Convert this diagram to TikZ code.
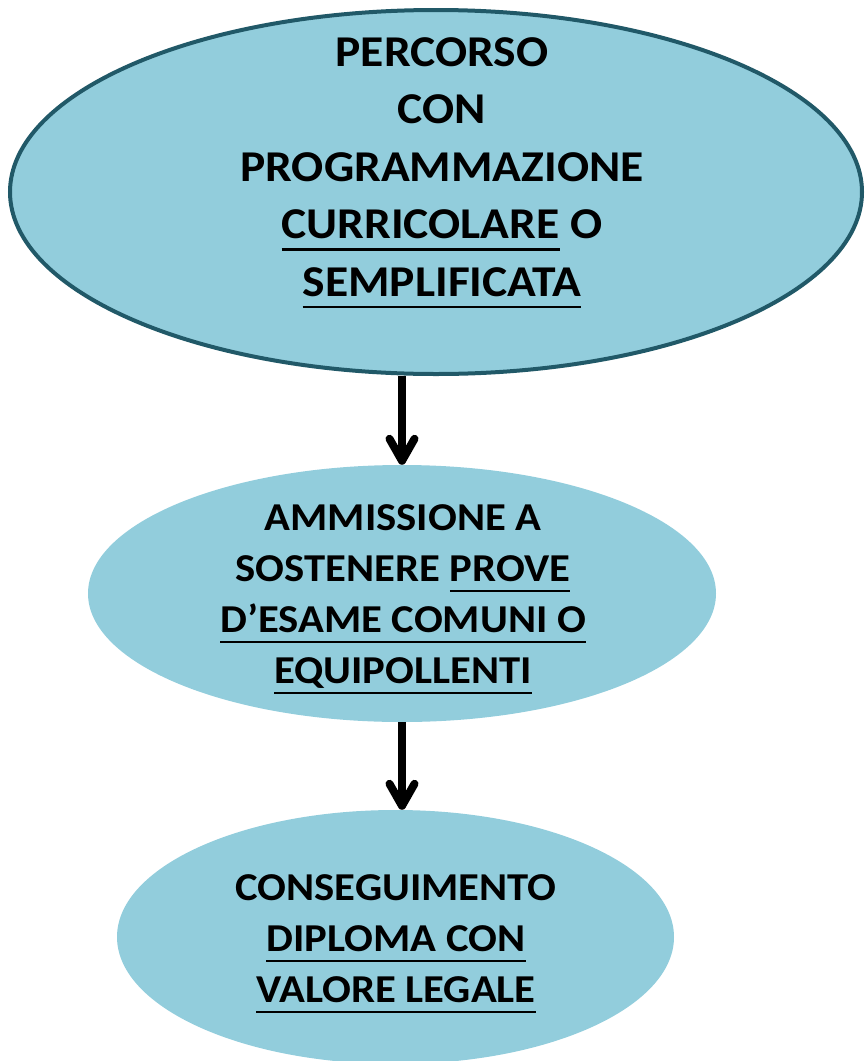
\documentclass[tikz,border=0pt]{standalone}
\usepackage{fontspec}
\setmainfont{Carlito}[FakeStretch=1.08]
\usetikzlibrary{shapes.geometric,arrows.meta}
\definecolor{cielo}{HTML}{92CDDC}
\definecolor{petrolio}{HTML}{215968}
\newcommand{\sott}[1]{\setbox0\hbox{#1}\rlap{\rule[-0.28em]{\wd0}{0.055em}}\box0{}}
\tikzset{
  tappa/.style={ellipse,fill=cielo,draw=none,inner sep=0pt},
  bordo/.style={draw=petrolio,line width=4pt},
  testo/.style={anchor=north,align=center,inner sep=0pt,text=black,
    font=\bfseries\fontsize{#1}{51}\selectfont},
  testo/.default={39.5},
  freccia/.style={-{Straight Barb[round,length=22pt,width=25pt]},line width=8pt,black},
}
\begin{document}
\begin{tikzpicture}[x=1pt,y=1pt]
  \useasboundingbox (0,0) rectangle (866,-1061);
  % le tre tappe del percorso
  \node[tappa,bordo,minimum width=852pt,minimum height=364pt] (percorso) at (436,-192) {};
  \node[tappa,minimum width=628pt,minimum height=257pt] (ammissione) at (402,-593.5) {};
  \node[tappa,minimum width=557pt,minimum height=254pt] (diploma) at (395.5,-937) {};
  % testi
  \node[testo,font=\bfseries\fontsize{44}{57.5}\selectfont] (tpercorso) at (442,-37) {
    PERCORSO\\CON\\PROGRAMMAZIONE\\\sott{CURRICOLARE} O\\\sott{SEMPLIFICATA}};
  \node[testo] (tammissione) at (403,-504) {
    AMMISSIONE A\\SOSTENERE \sott{PROVE}\\\sott{D’ESAME COMUNI O}\\\sott{EQUIPOLLENTI}};
  \node[testo] (tdiploma) at (396,-874) {
    CONSEGUIMENTO\\\sott{DIPLOMA CON}\\\sott{VALORE LEGALE}};
  % frecce
  \draw[freccia] (percorso.south -| ammissione.north) -- (ammissione.north);
  \draw[freccia] (ammissione.south) -- (ammissione.south |- diploma.north);
\end{tikzpicture}
\end{document}
